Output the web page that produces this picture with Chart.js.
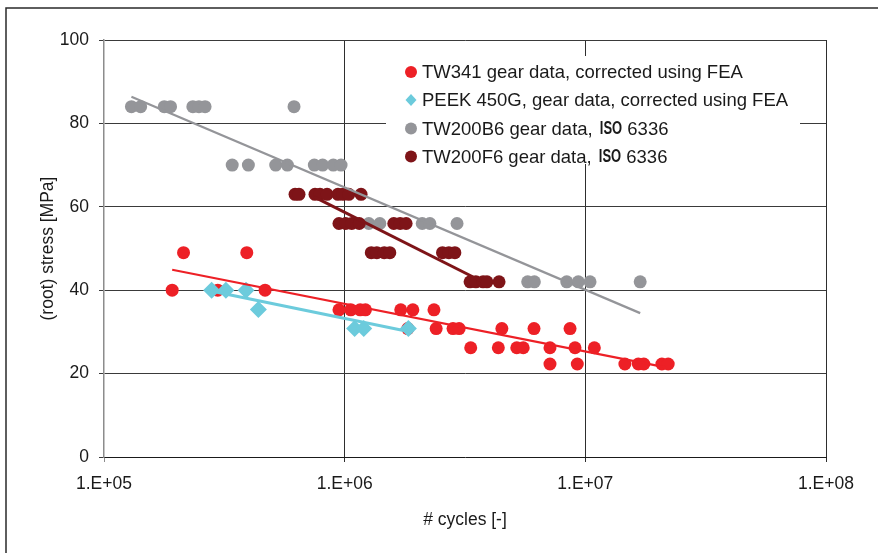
<!DOCTYPE html>
<html lang="en">
<head>
  <meta charset="UTF-8">
  <title>Gear fatigue data - root stress vs cycles</title>
  <script src="https://cdn.jsdelivr.net/npm/chart.js"></script>
  <style>
    html, body {
      margin: 0;
      padding: 0;
      background: #fff;
    }
    .wrap {
      position: relative;
      width: 878px;
      height: 553px;
    }
  </style>
</head>
<body>
<div class="wrap">
  <canvas id="snChart" width="878" height="553"></canvas>
</div>

<script>
  // TW341, corrected using FEA
  const tw341Cycles = [2.14e5, 3.92e5,
    1.92e5, 2.97e5, 4.67e5,
    9.47e5, 1.06e6, 1.16e6, 1.22e6, 1.71e6, 1.92e6, 2.35e6,
    1.83e6, 2.40e6, 2.82e6, 2.99e6, 4.50e6, 6.12e6, 8.64e6,
    3.34e6, 4.35e6, 5.19e6, 5.52e6, 7.13e6, 9.06e6, 1.09e7,
    7.13e6, 9.26e6, 1.46e7, 1.66e7, 1.75e7, 2.08e7, 2.21e7];
  const tw341Stress = [49, 49,
    40, 40, 40,
    35.3, 35.3, 35.3, 35.3, 35.3, 35.3, 35.3,
    30.8, 30.8, 30.8, 30.8, 30.8, 30.8, 30.8,
    26.2, 26.2, 26.2, 26.2, 26.2, 26.2, 26.2,
    22.3, 22.3, 22.3, 22.3, 22.3, 22.3, 22.3];

  // PEEK 450G, corrected using FEA
  const peekCycles = [2.80e5, 3.21e5, 3.89e5, 4.38e5, 1.10e6, 1.20e6, 1.84e6];
  const peekStress = [40, 40, 40, 35.4, 30.8, 30.8, 30.8];

  // TW200B6, ISO 6336
  const b6Cycles = [1.30e5, 1.42e5, 1.78e5, 1.89e5, 2.34e5, 2.48e5, 2.63e5, 6.16e5,
    3.41e5, 3.98e5, 5.17e5, 5.78e5, 7.48e5, 8.10e5, 8.97e5, 9.66e5,
    1.26e6, 1.40e6, 2.10e6, 2.26e6, 2.93e6,
    5.76e6, 6.14e6, 8.37e6, 9.35e6, 1.046e7, 1.69e7];
  const b6Stress = [84, 84, 84, 84, 84, 84, 84, 84,
    70, 70, 70, 70, 70, 70, 70, 70,
    56, 56, 56, 56, 56,
    42, 42, 42, 42, 42, 42];

  // TW200F6, ISO 6336
  const f6Cycles = [6.22e5, 6.46e5, 7.53e5, 7.90e5, 8.45e5, 9.38e5, 9.84e5, 1.04e6, 1.17e6,
    9.47e5, 1.01e6, 1.07e6, 1.15e6, 1.60e6, 1.70e6, 1.80e6,
    1.29e6, 1.36e6, 1.46e6, 1.54e6, 2.55e6, 2.71e6, 2.87e6,
    3.32e6, 3.51e6, 3.76e6, 3.90e6, 4.38e6];
  const f6Stress = [63, 63, 63, 63, 63, 63, 63, 63, 63,
    56, 56, 56, 56, 56, 56, 56,
    49, 49, 49, 49, 49, 49, 49,
    42, 42, 42, 42, 42];

  // trend lines (end points)
  const tw341TrendCycles = [1.92e5, 2.16e7];
  const tw341TrendStress = [44.9, 21.5];
  const peekTrendCycles = [2.85e5, 1.84e6];
  const peekTrendStress = [39.7, 30.1];
  const b6TrendCycles = [1.30e5, 1.69e7];
  const b6TrendStress = [86.4, 34.5];
  const f6TrendCycles = [7.46e5, 3.69e6];
  const f6TrendStress = [62.4, 42.2];

  const xTickValues = [1e5, 1e6, 1e7, 1e8];
  const xTickLabels = ['1.E+05', '1.E+06', '1.E+07', '1.E+08'];

  const legendLabels = [
    'TW341 gear data, corrected using FEA',
    'PEEK 450G, gear data, corrected using FEA',
    'TW200B6 gear data, ISO 6336',
    'TW200F6 gear data, ISO 6336'
  ];

  const RED = '#ed2026';
  const CYAN = '#6ccbdc';
  const GREY = '#949599';
  const DARKRED = '#7e1418';

  const toPoints = (xs, ys) => xs.map((x, i) => ({ x: x, y: ys[i] }));

  const FONT = '"Liberation Sans", Arial, sans-serif';

  function pointSet(label, xs, ys, color, style, radius, order) {
    return {
      label: label,
      data: toPoints(xs, ys),
      backgroundColor: color,
      borderColor: color,
      borderWidth: 0,
      pointStyle: style,
      pointRadius: radius,
      pointHoverRadius: radius,
      showLine: false,
      order: order
    };
  }

  function trendSet(xs, ys, color, width) {
    return {
      label: '',
      data: toPoints(xs, ys),
      borderColor: color,
      borderWidth: width,
      pointRadius: 0,
      showLine: true,
      fill: false,
      order: 0
    };
  }

  // outer frame, left and top edges only
  const framePlugin = {
    id: 'frame',
    beforeDraw(chart) {
      const ctx = chart.ctx;
      ctx.save();
      ctx.strokeStyle = '#2a2a2a';
      ctx.lineWidth = 1.5;
      ctx.beginPath();
      ctx.moveTo(6, 553);
      ctx.lineTo(6, 8);
      ctx.lineTo(878, 8);
      ctx.stroke();
      ctx.restore();
    }
  };

  // legend box with white background over the grid
  const legendPlugin = {
    id: 'boxLegend',
    afterDatasetsDraw(chart) {
      const ctx = chart.ctx;
      const markers = [
        { color: RED, style: 'circle' },
        { color: CYAN, style: 'diamond' },
        { color: GREY, style: 'circle' },
        { color: DARKRED, style: 'circle' }
      ];
      const left = 386, top = 56, width = 414, height = 108;
      const rowY = [72, 100, 128.5, 156.5];
      const markerX = 411, textX = 422;
      const normalFont = '18.5px ' + FONT;
      const boldFont = 'bold 18px ' + FONT;

      ctx.save();
      ctx.fillStyle = '#fff';
      ctx.fillRect(left, top, width, height);

      legendLabels.forEach((label, i) => {
        const y = rowY[i];
        const m = markers[i];
        ctx.fillStyle = m.color;
        ctx.beginPath();
        if (m.style === 'circle') {
          ctx.arc(markerX, y, 6, 0, Math.PI * 2);
        } else {
          ctx.moveTo(markerX, y - 6);
          ctx.lineTo(markerX + 5.5, y);
          ctx.lineTo(markerX, y + 6);
          ctx.lineTo(markerX - 5.5, y);
          ctx.closePath();
        }
        ctx.fill();

        ctx.fillStyle = '#1a1a1a';
        ctx.textBaseline = 'middle';
        ctx.textAlign = 'left';
        const parts = label.split('ISO');
        let x = textX;
        ctx.font = normalFont;
        ctx.fillText(parts[0], x, y + 1);
        if (parts.length > 1) {
          x += ctx.measureText(parts[0]).width + 2;
          // "ISO" is set in a narrow bold face
          ctx.font = boldFont;
          const isoW = ctx.measureText('ISO').width * 0.72;
          ctx.save();
          ctx.translate(x, y + 1);
          ctx.scale(0.72, 1);
          ctx.fillText('ISO', 0, 0);
          ctx.restore();
          x += isoW;
          ctx.font = normalFont;
          ctx.fillText(parts[1], x, y + 1);
        }
      });
      ctx.restore();
    }
  };

  const ctx = document.getElementById('snChart').getContext('2d');
  const snChart = new Chart(ctx, {
    type: 'scatter',
    data: {
      datasets: [
        trendSet(tw341TrendCycles, tw341TrendStress, RED, 2.2),
        trendSet(peekTrendCycles, peekTrendStress, CYAN, 3),
        trendSet(b6TrendCycles, b6TrendStress, GREY, 2.2),
        trendSet(f6TrendCycles, f6TrendStress, DARKRED, 3),
        pointSet(legendLabels[3], f6Cycles, f6Stress, DARKRED, 'circle', 6.5, 1),
        pointSet(legendLabels[2], b6Cycles, b6Stress, GREY, 'circle', 6.5, 2),
        pointSet(legendLabels[1], peekCycles, peekStress, CYAN, 'rectRot', 8.5, 3),
        pointSet(legendLabels[0], tw341Cycles, tw341Stress, RED, 'circle', 6.5, 4)
      ]
    },
    plugins: [framePlugin, legendPlugin],
    options: {
      responsive: false,
      animation: false,
      layout: {
        padding: { left: 38, top: 40, right: 52, bottom: 22 }
      },
      plugins: {
        legend: { display: false },
        tooltip: { enabled: false }
      },
      scales: {
        x: {
          type: 'logarithmic',
          min: 1e5,
          max: 1e8,
          afterBuildTicks: (scale) => {
            scale.ticks = xTickValues.map(v => ({ value: v }));
          },
          afterFit: (scale) => { scale.height = 74; },
          ticks: {
            autoSkip: false,
            maxRotation: 0,
            padding: 12,
            color: '#1a1a1a',
            font: { family: FONT, size: 17.5 },
            callback: (value, index) => xTickLabels[index]
          },
          grid: {
            color: (c) => c.index === 0 ? 'rgba(0,0,0,0)' : '#2e2e2e',
            tickColor: (c) => c.index === 0 ? '#8c8c8c' : '#2e2e2e',
            lineWidth: 1,
            tickLength: 5
          },
          border: { color: '#1a1a1a', width: 1 },
          title: {
            display: true,
            text: '# cycles [-]',
            color: '#1a1a1a',
            padding: 0,
            font: { family: FONT, size: 17.5 }
          }
        },
        y: {
          min: 0,
          max: 100,
          afterFit: (scale) => { scale.width = 66; },
          ticks: {
            stepSize: 20,
            padding: 10,
            color: '#1a1a1a',
            font: { family: FONT, size: 17.5 }
          },
          grid: {
            color: (c) => c.index === 0 ? 'rgba(0,0,0,0)' : '#3a3a3a',
            tickColor: '#3a3a3a',
            lineWidth: 1,
            tickLength: 5
          },
          border: { color: '#8c8c8c', width: 1.5 },
          title: {
            display: true,
            text: '(root) stress [MPa]',
            color: '#1a1a1a',
            padding: 0,
            font: { family: FONT, size: 17.5 }
          }
        }
      }
    }
  });
</script>
</body>
</html>
